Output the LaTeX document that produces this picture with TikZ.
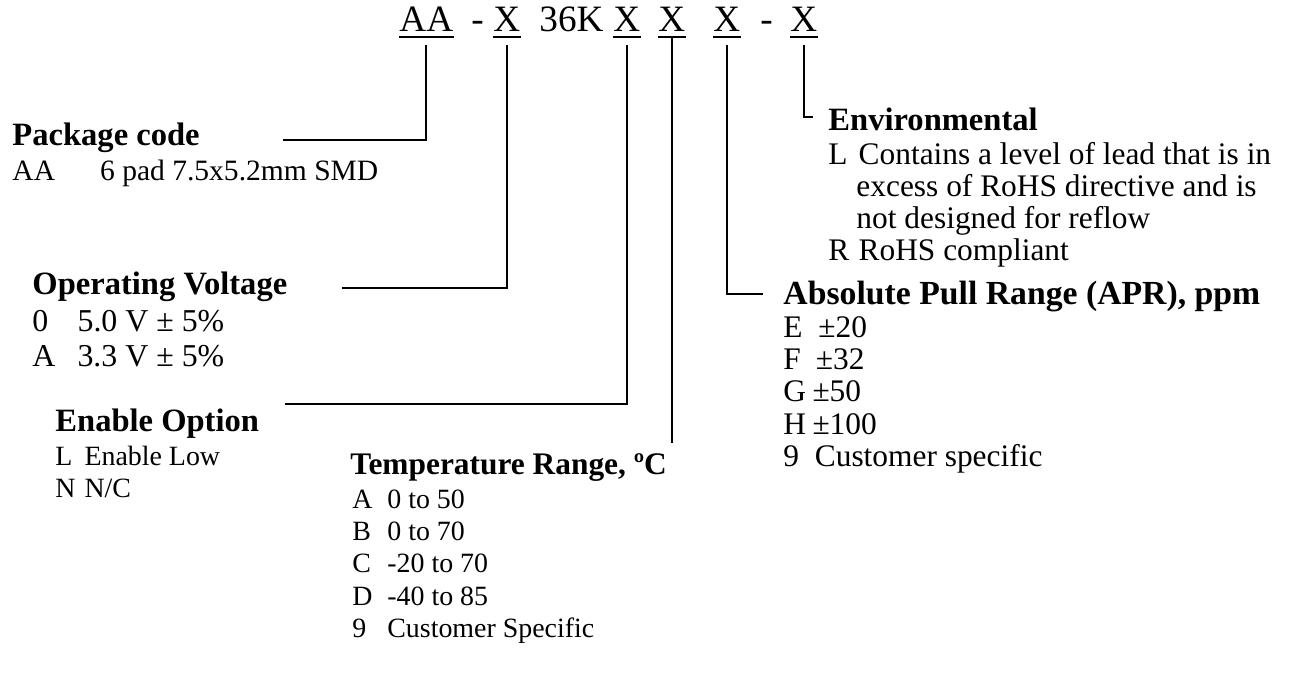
\documentclass[tikz,border=0pt]{standalone}
\usepackage{fontspec}
\setmainfont{Liberation Serif}
\usetikzlibrary{calc}
\newcommand\kv[3]{\makebox[#1][l]{#2}#3}
\begin{document}
\begin{tikzpicture}[x=0.43pt,y=-0.43pt,
  code/.style={inner sep=0pt, anchor=base west, font=\fontsize{16}{19}\selectfont},
  head/.style={inner sep=0pt, anchor=base west, font=\fontsize{14}{16}\selectfont\bfseries},
  item/.style={inner sep=0pt, anchor=base west, font=\fontsize{12}{14}\selectfont},
  big/.style={item, font=\fontsize{13.5}{16}\selectfont},
  lead/.style={line width=0.9pt}]
\useasboundingbox[fill=white] (0,0) rectangle (1297,679);
% part number
\node[code] (cAA) at (399,32) {AA};
\node[code] (d1) at (471,32) {-};
\node[code] (cV) at (493,32) {X};
\node[code] (c36) at (539,32) {36K};
\node[code] (cE) at (613,32) {X};
\node[code] (cT) at (658,32) {X};
\node[code] (cP) at (713,32) {X};
\node[code] (d2) at (760,32) {-};
\node[code] (cR) at (790,32) {X};
\foreach \n in {cAA,cV,cE,cT,cP,cR}
  \draw[lead] ($(\n.base west)+(0,5)$) -- ($(\n.base east)+(0,5)$);
% headings and options
\node[head] (pkg) at (12,146) {Package code};
\node[item, font=\fontsize{12.7}{15}\selectfont] (pkg1) at (12,181) {\kv{37.7pt}{AA}{6 pad 7.5x5.2mm SMD}};
\node[head] (vol) at (32,295) {Operating Voltage};
\node[big, font=\fontsize{13.7}{16}\selectfont] (vol1) at (32,332) {\kv{19.4pt}{0}{5.0 V ± 5\%}};
\node[big, font=\fontsize{13.7}{16}\selectfont] (vol2) at (32,367) {\kv{19.4pt}{A}{3.3 V ± 5\%}};
\node[head] (ena) at (55,432) {Enable Option};
\node[item] (ena1) at (55,466) {\kv{12.5pt}{L}{Enable Low}};
\node[item] (ena2) at (55,498) {\kv{12.5pt}{N}{N/C}};
\node[head, font=\fontsize{13.5}{16}\selectfont\bfseries] (tmp) at (350,475) {Temperature Range, ºC};
\node[item] (tmp1) at (352,509) {\kv{15pt}{A}{0 to 50}};
\node[item] (tmp2) at (352,541) {\kv{15pt}{B}{0 to 70}};
\node[item] (tmp3) at (352,573) {\kv{15pt}{C}{-20 to 70}};
\node[item] (tmp4) at (352,606) {\kv{15pt}{D}{-40 to 85}};
\node[item] (tmp5) at (352,638) {\kv{15pt}{9}{Customer Specific}};
\node[head, font=\fontsize{14.5}{17}\selectfont\bfseries] (apr) at (783,305) {Absolute Pull Range (APR), ppm};
\node[big] (apr1) at (783,338) {\kv{15pt}{E}{±20}};
\node[big] (apr2) at (783,370) {\kv{14pt}{F}{±32}};
\node[big] (apr3) at (783,402) {\kv{12.5pt}{G}{±50}};
\node[big] (apr4) at (783,435) {\kv{12.5pt}{H}{±100}};
\node[big] (apr5) at (783,467) {\kv{13.5pt}{9}{Customer specific}};
\node[head] (env) at (828,131) {Environmental};
\node[big] (env1) at (828,165) {\kv{13pt}{L}{Contains a level of lead that is in}};
\node[big] (env2) at (856,197) {excess of RoHS directive and is};
\node[big] (env3) at (856,229) {not designed for reflow};
\node[big] (env4) at (828,261) {\kv{13pt}{R}{RoHS compliant}};
% leader ends
\coordinate (pkE) at (283,140);
\coordinate (volE) at (342,288);
\coordinate (enaE) at (285,404);
\coordinate (tmpE) at (0,443);
\coordinate (aprE) at (763,294);
\coordinate (envE) at (813,117);
% leaders
\draw[lead] ($(cAA.base)+(0,13)$) |- (pkE);
\draw[lead] ($(cV.base)+(0,13)$) |- (volE);
\draw[lead] ($(cE.base)+(0,13)$) |- (enaE);
\draw[lead] ($(cT.base)+(0,5)$) -- (cT.base |- tmpE);
\draw[lead] ($(cP.base)+(0,13)$) |- (aprE);
\draw[lead] ($(cR.base)+(0,13)$) |- (envE);
\end{tikzpicture}
\end{document}
